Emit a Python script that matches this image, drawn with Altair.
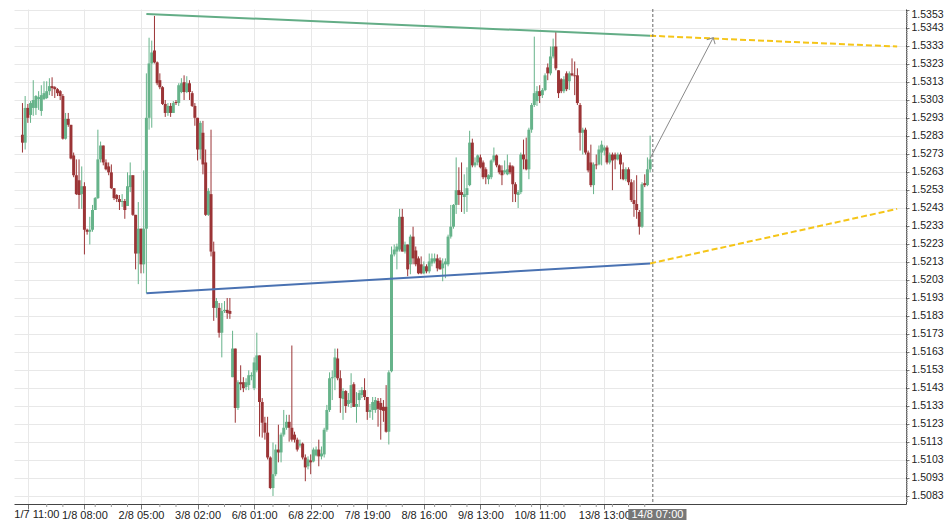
import altair as alt
import pandas as pd
import numpy as np

# ---------------- data (hourly candles) ----------------
OPEN = [1.52837,1.52793,1.52986,1.52947,1.52986,1.52986,1.53035,1.52969,1.53035,1.53041,
        1.53079,1.53107,1.53101,1.53090,1.53079,1.53052,1.52815,1.52925,1.52892,1.52722,
        1.52612,1.52584,1.52507,1.52551,1.52309,1.52298,1.52309,1.52419,1.52485,1.52700,
        1.52777,1.52683,1.52661,1.52628,1.52540,1.52502,1.52480,1.52463,1.52469,1.52441,
        1.52546,1.52612,1.52392,1.52177,1.52315,1.52117,1.52315,1.52931,1.53233,1.53305,
        1.53239,1.53140,1.53101,1.53008,1.52958,1.52997,1.52958,1.53019,1.53013,1.53074,
        1.53129,1.53074,1.53123,1.53068,1.52997,1.52931,1.52755,1.52848,1.52683,1.52392,
        1.52507,1.52188,1.51875,1.51875,1.51737,1.51858,1.51864,1.51858,1.51490,1.51649,
        1.51319,1.51462,1.51462,1.51435,1.51446,1.51495,1.51429,1.51528,1.51611,1.51352,
        1.51237,1.51182,1.51044,1.50874,1.50951,1.51088,1.51072,1.51171,1.51209,1.51242,
        1.51209,1.51171,1.51143,1.51110,1.51121,1.51044,1.50995,1.51028,1.51022,1.51055,
        1.51088,1.51050,1.51061,1.51198,1.51308,1.51484,1.51490,1.51594,1.51484,1.51369,
        1.51413,1.51341,1.51347,1.51451,1.51325,1.51363,1.51391,1.51418,1.51380,1.51297,
        1.51308,1.51308,1.51358,1.51347,1.51325,1.51325,1.51187,1.51523,1.52172,1.52188,
        1.52199,1.52381,1.52188,1.52227,1.52117,1.52271,1.52194,1.52150,1.52117,1.52067,
        1.52106,1.52078,1.52122,1.52133,1.52150,1.52139,1.52095,1.52117,1.52117,1.52271,
        1.52326,1.52447,1.52529,1.52518,1.52491,1.52502,1.52557,1.52793,1.52667,1.52683,
        1.52711,1.52683,1.52645,1.52590,1.52601,1.52694,1.52722,1.52667,1.52639,1.52628,
        1.52617,1.52667,1.52661,1.52562,1.52502,1.52518,1.52727,1.52700,1.52645,1.52865,
        1.53002,1.53024,1.53079,1.53057,1.53085,1.53211,1.53178,1.53272,1.53327,1.53195,
        1.53145,1.53079,1.53178,1.53134,1.53178,1.53167,1.53167,1.53002,1.52848,1.52865,
        1.52738,1.52683,1.52557,1.52672,1.52672,1.52738,1.52749,1.52766,1.52683,1.52727,
        1.52727,1.52700,1.52727,1.52645,1.52590,1.52645,1.52573,1.52474,1.52452,1.52408,
        1.52326,1.52568,1.52557,1.52645]

CLOSE = [1.52793,1.52986,1.52931,1.53013,1.53030,1.53052,1.53046,1.53057,1.53068,1.53079,
         1.53107,1.53096,1.53090,1.53068,1.53052,1.52815,1.52925,1.52892,1.52705,1.52612,
         1.52507,1.52502,1.52551,1.52309,1.52298,1.52309,1.52419,1.52485,1.52700,1.52777,
         1.52683,1.52645,1.52628,1.52540,1.52485,1.52480,1.52463,1.52469,1.52419,1.52551,
         1.52612,1.52392,1.52177,1.52315,1.52117,1.52315,1.52931,1.53233,1.53294,1.53239,
         1.53123,1.53101,1.53008,1.52958,1.52997,1.52958,1.53013,1.53013,1.53112,1.53123,
         1.53074,1.53123,1.53074,1.52997,1.52931,1.52755,1.52903,1.52672,1.52392,1.52524,
         1.52188,1.51875,1.51913,1.51737,1.51858,1.51864,1.51847,1.51842,1.51649,1.51319,
         1.51462,1.51451,1.51429,1.51462,1.51501,1.51501,1.51572,1.51611,1.51352,1.51237,
         1.51182,1.51044,1.50874,1.50951,1.51088,1.51072,1.51171,1.51209,1.51242,1.51209,
         1.51143,1.51143,1.51088,1.51121,1.51044,1.50989,1.51033,1.51017,1.51088,1.51088,
         1.51050,1.51066,1.51198,1.51308,1.51484,1.51490,1.51600,1.51484,1.51374,1.51413,
         1.51330,1.51363,1.51446,1.51325,1.51341,1.51402,1.51418,1.51380,1.51297,1.51308,
         1.51352,1.51363,1.51314,1.51308,1.51303,1.51187,1.51517,1.52172,1.52199,1.52216,
         1.52381,1.52188,1.52227,1.52089,1.52271,1.52150,1.52117,1.52067,1.52067,1.52106,
         1.52078,1.52133,1.52150,1.52150,1.52095,1.52089,1.52122,1.52133,1.52271,1.52326,
         1.52447,1.52529,1.52502,1.52502,1.52507,1.52540,1.52793,1.52667,1.52683,1.52722,
         1.52656,1.52601,1.52601,1.52612,1.52694,1.52722,1.52667,1.52628,1.52612,1.52639,
         1.52645,1.52628,1.52562,1.52507,1.52518,1.52727,1.52700,1.52645,1.52865,1.53002,
         1.53068,1.53079,1.53052,1.53085,1.53167,1.53178,1.53272,1.53327,1.53206,1.53068,
         1.53079,1.53145,1.53090,1.53178,1.53167,1.53162,1.53013,1.52848,1.52865,1.52738,
         1.52639,1.52557,1.52672,1.52667,1.52755,1.52782,1.52766,1.52683,1.52727,1.52694,
         1.52700,1.52727,1.52672,1.52590,1.52645,1.52573,1.52474,1.52452,1.52419,1.52326,
         1.52562,1.52557,1.52645,1.52700]

HIGH = [1.53013,1.53052,1.53008,1.53024,1.53140,1.53057,1.53079,1.53112,1.53134,1.53134,
        1.53151,1.53156,1.53107,1.53096,1.53085,1.53063,1.52958,1.52958,1.52892,1.52738,
        1.52700,1.52700,1.52661,1.52573,1.52315,1.52381,1.52447,1.52491,1.52865,1.52799,
        1.52777,1.52700,1.52683,1.52672,1.52540,1.52507,1.52502,1.52507,1.52480,1.52628,
        1.52683,1.52612,1.52392,1.52463,1.52315,1.52639,1.53178,1.53376,1.53360,1.53497,
        1.53244,1.53178,1.53107,1.53030,1.53013,1.53013,1.53024,1.53030,1.53123,1.53151,
        1.53167,1.53162,1.53140,1.53079,1.53013,1.52931,1.52914,1.52914,1.52755,1.52540,
        1.52865,1.52243,1.51930,1.51902,1.51902,1.51913,1.51930,1.51930,1.51748,1.51649,
        1.51473,1.51556,1.51490,1.51484,1.51528,1.51517,1.51600,1.51737,1.51611,1.51374,
        1.51270,1.51270,1.51050,1.51127,1.51116,1.51226,1.51182,1.51308,1.51281,1.51281,
        1.51666,1.51187,1.51154,1.51143,1.51127,1.51061,1.51050,1.51061,1.51099,1.51105,
        1.51143,1.51105,1.51209,1.51336,1.51517,1.51528,1.51649,1.51649,1.51528,1.51429,
        1.51418,1.51402,1.51512,1.51462,1.51407,1.51418,1.51435,1.51484,1.51380,1.51341,
        1.51380,1.51380,1.51374,1.51374,1.51363,1.51446,1.51528,1.52216,1.52227,1.52232,
        1.52425,1.52425,1.52243,1.52227,1.52282,1.52326,1.52216,1.52161,1.52161,1.52133,
        1.52117,1.52177,1.52177,1.52177,1.52172,1.52155,1.52150,1.52150,1.52282,1.52447,
        1.52452,1.52711,1.52656,1.52683,1.52617,1.52656,1.52859,1.52815,1.52711,1.52727,
        1.52727,1.52694,1.52656,1.52617,1.52700,1.52766,1.52727,1.52672,1.52667,1.52694,
        1.52727,1.52683,1.52667,1.52573,1.52529,1.52738,1.52810,1.52821,1.52876,1.53013,
        1.53382,1.53107,1.53112,1.53096,1.53178,1.53233,1.53327,1.53371,1.53409,1.53195,
        1.53151,1.53162,1.53189,1.53189,1.53261,1.53244,1.53206,1.53013,1.52876,1.52876,
        1.52749,1.52782,1.52683,1.52727,1.52777,1.52804,1.52777,1.52777,1.52738,1.52738,
        1.52738,1.52738,1.52738,1.52683,1.52656,1.52656,1.52590,1.52584,1.52612,1.52419,
        1.52573,1.52617,1.52711,1.52832]

LOW = [1.52738,1.52755,1.52903,1.52903,1.52942,1.52947,1.52975,1.52942,1.53030,1.53035,
       1.53057,1.53052,1.53041,1.53052,1.53030,1.52810,1.52810,1.52881,1.52700,1.52601,
       1.52502,1.52425,1.52425,1.52172,1.52282,1.52227,1.52298,1.52419,1.52480,1.52683,
       1.52667,1.52639,1.52612,1.52535,1.52474,1.52463,1.52419,1.52436,1.52370,1.52441,
       1.52518,1.52386,1.52089,1.52007,1.52067,1.52067,1.51957,1.52865,1.52876,1.53233,
       1.53112,1.53090,1.53002,1.52936,1.52942,1.52936,1.52958,1.53002,1.52997,1.53068,
       1.53030,1.53068,1.53030,1.52991,1.52887,1.52694,1.52700,1.52617,1.52386,1.52386,
       1.52161,1.51803,1.51820,1.51710,1.51600,1.51847,1.51814,1.51814,1.51490,1.51237,
       1.51308,1.51418,1.51407,1.51418,1.51418,1.51473,1.51418,1.51517,1.51160,1.51154,
       1.51143,1.51033,1.50868,1.50830,1.50940,1.51017,1.51017,1.51160,1.51198,1.51132,
       1.51132,1.51127,1.51077,1.51099,1.51033,1.50912,1.50978,1.50951,1.51017,1.51050,
       1.50995,1.51033,1.51044,1.51187,1.51297,1.51363,1.51418,1.51473,1.51292,1.51253,
       1.51292,1.51325,1.51319,1.51325,1.51237,1.51325,1.51374,1.51363,1.51253,1.51264,
       1.51253,1.51292,1.51215,1.51143,1.51242,1.51182,1.51116,1.51517,1.52161,1.52089,
       1.52188,1.52188,1.52177,1.52051,1.52062,1.52117,1.52106,1.52062,1.52062,1.52062,
       1.52067,1.52067,1.52106,1.52122,1.52078,1.52089,1.52023,1.52040,1.52106,1.52260,
       1.52315,1.52397,1.52447,1.52408,1.52397,1.52408,1.52551,1.52656,1.52656,1.52667,
       1.52650,1.52590,1.52562,1.52562,1.52590,1.52683,1.52656,1.52617,1.52557,1.52617,
       1.52612,1.52617,1.52463,1.52463,1.52430,1.52507,1.52645,1.52639,1.52590,1.52848,
       1.52991,1.52997,1.53013,1.53041,1.53079,1.53140,1.53167,1.53261,1.53195,1.53041,
       1.53068,1.53068,1.53079,1.53085,1.53162,1.53057,1.53002,1.52749,1.52727,1.52727,
       1.52628,1.52546,1.52507,1.52645,1.52667,1.52667,1.52722,1.52672,1.52672,1.52529,
       1.52645,1.52694,1.52590,1.52584,1.52579,1.52557,1.52463,1.52381,1.52370,1.52282,
       1.52320,1.52546,1.52551,1.52628]

X_TICK_INDEX = [2, 23, 44, 65, 86, 107, 128, 149, 170, 192, 216]
X_TICK_LABELS = ["1/7 11:00", "1/8 08:00", "2/8 05:00", "3/8 02:00", "6/8 01:00",
                 "6/8 22:00", "7/8 19:00", "8/8 16:00", "9/8 13:00", "10/8 11:00", "13/8 13:00"]
CURSOR_INDEX = 234
CURSOR_LABEL = "14/8 07:00"

Y_TICKS = [round(1.5083 + 0.001 * k, 4) for k in range(28)]

# drawn objects (candle index, price)
GREEN_LINE_I = [46, 233]
GREEN_LINE_P = [1.53508, 1.53387]
BLUE_LINE_I = [46, 233]
BLUE_LINE_P = [1.51957, 1.52122]
YELLOW_UP_I = [233, 324.7]
YELLOW_UP_P = [1.53387, 1.53327]
YELLOW_LOW_I = [233, 324.7]
YELLOW_LOW_P = [1.52122, 1.52425]
ARROW_I = [233, 256.4]
ARROW_P = [1.52705, 1.53376]

# ---------------- styling ----------------
W, H = 892, 495
XDOM = [-1.285, 326.13]
YDOM = [1.507855, 1.535355]
UP, DOWN = "#66b38a", "#9b3436"
FONT = "Liberation Sans"

n = len(CLOSE)
candles = pd.DataFrame({"i": np.arange(n), "o": OPEN, "h": HIGH, "l": LOW, "c": CLOSE})
candles["dir"] = np.where(candles["c"] >= candles["o"], "up", "down")

xscale = alt.Scale(domain=XDOM, nice=False, zero=False)
yscale = alt.Scale(domain=YDOM, nice=False, zero=False)

label_expr = "".join(
    f"datum.value == {v} ? '{t}' : " for v, t in zip(X_TICK_INDEX[1:], X_TICK_LABELS[1:])
) + "''"

X_AXIS = alt.Axis(values=X_TICK_INDEX, labelExpr=label_expr, title=None, grid=True,
                  gridColor="#e8e8e8", gridWidth=1, tickSize=5, tickColor="#777",
                  domainColor="#444", labelFont=FONT, labelFontSize=11, labelColor="#222",
                  labelPadding=0, labelAngle=0, labelOverlap=False)
Y_AXIS = alt.Axis(orient="right", values=Y_TICKS, format=".4f", title=None, grid=True,
                  gridColor="#e8e8e8", gridWidth=1, tickSize=3, tickColor="#777",
                  domainColor="#444", labelFont=FONT, labelFontSize=10.5, labelColor="#222",
                  labelPadding=2, labelFlush=2)


def X(field):
    return alt.X(field, scale=xscale, axis=X_AXIS, title=None)


def Y(field):
    return alt.Y(field, scale=yscale, axis=Y_AXIS, title=None)


color = alt.Color("dir:N", scale=alt.Scale(domain=["up", "down"], range=[UP, DOWN]), legend=None)

wicks = alt.Chart(candles).mark_rule(strokeWidth=1).encode(
    x=X("i:Q"), y=Y("l:Q"), y2="h:Q", color=color,
)
bodies = alt.Chart(candles).mark_bar(size=3).encode(
    x=X("i:Q"), y=Y("o:Q"), y2="c:Q", color=color,
)


def seg(ii, pp, **mk):
    df = pd.DataFrame({"i": ii, "p": pp})
    return alt.Chart(df).mark_line(**mk).encode(x=X("i:Q"), y=Y("p:Q"))


green_line = seg(GREEN_LINE_I, GREEN_LINE_P, color="#63ad86", strokeWidth=2)
blue_line = seg(BLUE_LINE_I, BLUE_LINE_P, color="#4a72b2", strokeWidth=2)
yellow_up = seg(YELLOW_UP_I, YELLOW_UP_P, color="#f5c518", strokeWidth=2, strokeDash=[6, 3])
yellow_low = seg(YELLOW_LOW_I, YELLOW_LOW_P, color="#f5c518", strokeWidth=2, strokeDash=[6, 3])
arrow = seg(ARROW_I, ARROW_P, color="#8a8a8a", strokeWidth=1)
arrow_head = alt.Chart(pd.DataFrame({"i": [ARROW_I[1]], "p": [ARROW_P[1]]})).mark_point(
    shape="M-1,1L0,0L1,1", angle=28, size=90, filled=False, stroke="#8a8a8a", strokeWidth=1,
    opacity=1,
).encode(x=X("i:Q"), y=Y("p:Q"))

# minor ticks (ruler)
major = set(Y_TICKS)
minor_y = [round(v, 4) for v in np.arange(1.5080, 1.53535, 0.0001)
           if round(v, 4) not in major and YDOM[0] <= v <= YDOM[1]]
y_minor = alt.Chart(pd.DataFrame({"p": minor_y})).mark_rule(color="#999", strokeWidth=1).encode(
    y=Y("p:Q"), x=alt.value(W), x2=alt.value(W + 2),
)
minor_x = [v for v in range(3, CURSOR_INDEX, 6) if all(abs(v - m) > 2 for m in X_TICK_INDEX)]
x_minor = alt.Chart(pd.DataFrame({"i": minor_x})).mark_rule(color="#999", strokeWidth=1).encode(
    x=X("i:Q"), y=alt.value(H), y2=alt.value(H + 3),
)

cursor = alt.Chart(pd.DataFrame({"i": [CURSOR_INDEX]})).mark_rule(
    color="#666", strokeWidth=1, strokeDash=[3, 2]
).encode(x=X("i:Q"))

box = alt.Chart(pd.DataFrame({"i": [224.9], "b": [246.5]})).mark_rect(color="#777777").encode(
    x=X("i:Q"), x2="b:Q", y=alt.value(H + 5), y2=alt.value(H + 16),
)
box_text = alt.Chart(pd.DataFrame({"i": [235.7], "t": [CURSOR_LABEL]})).mark_text(
    font=FONT, fontSize=11, color="white", baseline="top", align="center"
).encode(x=X("i:Q"), y=alt.value(H + 5), text="t:N")

first_label = alt.Chart(pd.DataFrame({"i": [X_TICK_INDEX[0]], "t": [X_TICK_LABELS[0]]})).mark_text(
    font=FONT, fontSize=11, color="#222", baseline="top", align="center", dx=9
).encode(x=X("i:Q"), y=alt.value(H + 5), text="t:N")

chart = alt.layer(
    wicks, bodies, green_line, blue_line, yellow_up, yellow_low, arrow, arrow_head,
    y_minor, x_minor, cursor, box, box_text, first_label,
).properties(
    width=W, height=H,
    padding={"left": 6, "top": 0, "right": 0, "bottom": 0},
    background="white",
).configure_view(strokeWidth=0)

chart.save("out.html", embed_options={"renderer": "svg", "actions": False})
